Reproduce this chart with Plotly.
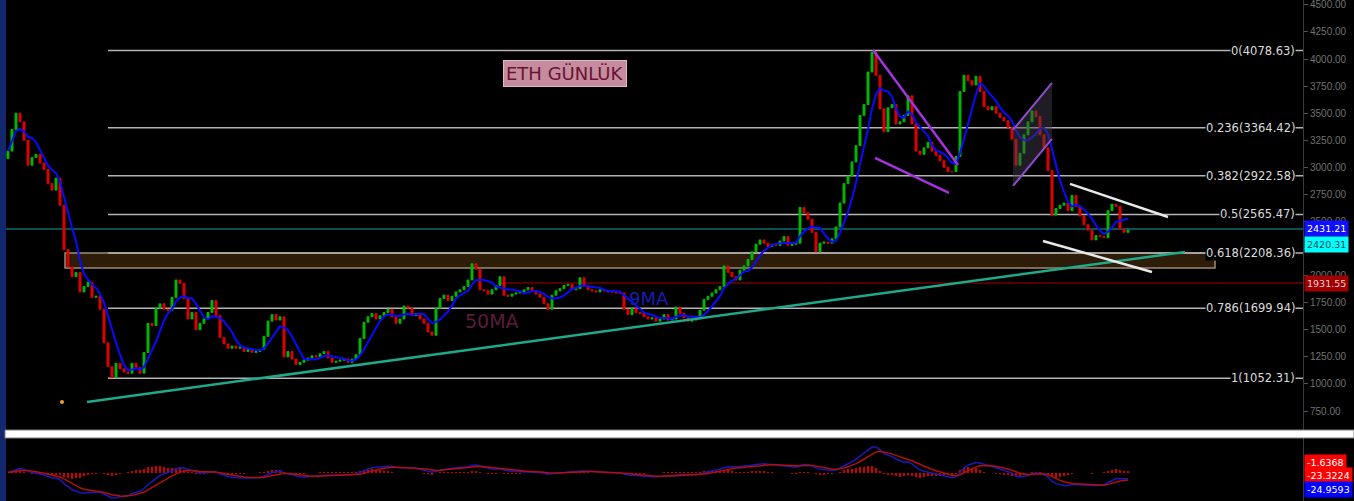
import pandas as pd
import plotly.graph_objects as go

# ---------------- data ----------------
closes = [
    3150, 3350, 3500, 3420, 3250, 3020, 3090, 3120, 3040, 2980,
    2850, 2790, 2900, 2650, 2240, 2080, 1990, 2030, 1850, 1900,
    1940, 1800, 1810, 1690, 1380, 1160, 1060, 1190, 1140, 1110,
    1100, 1190, 1150, 1100, 1290, 1560, 1540, 1700, 1740, 1690,
    1680, 1800, 1960, 1930, 1790, 1600, 1660, 1500, 1560, 1600,
    1660, 1770, 1630, 1430, 1370, 1330, 1350, 1330, 1340, 1300,
    1320, 1290, 1300, 1320, 1440, 1580, 1640, 1590, 1620, 1250,
    1300, 1230, 1180, 1200, 1220, 1240, 1260, 1250, 1280, 1300,
    1240, 1200, 1210, 1220, 1230, 1200, 1230, 1270, 1420, 1570,
    1620, 1650, 1600, 1630, 1660, 1690, 1620, 1560, 1600, 1720,
    1700, 1630, 1650, 1600, 1560, 1480, 1450, 1700, 1790, 1820,
    1770, 1810, 1850, 1870, 1900, 1960, 2110, 2060, 1870, 1860,
    1830, 1870, 1910, 1990, 1820, 1810, 1830, 1840, 1850, 1870,
    1890, 1860, 1830, 1800, 1740, 1690, 1820, 1860, 1880, 1910,
    1920, 1870, 1880, 1980, 1900, 1870, 1860, 1850, 1870, 1860,
    1850, 1850, 1840, 1840, 1690, 1640, 1700, 1660, 1650, 1620,
    1600, 1610, 1580, 1600, 1640, 1590, 1600, 1710, 1650, 1610,
    1580, 1590, 1600, 1680, 1780, 1810, 1840, 1870, 1900, 2090,
    2030, 1990, 1960, 2050, 2090, 2150, 2220, 2290, 2330, 2300,
    2270, 2290, 2280, 2320, 2360, 2280, 2290, 2300, 2630, 2580,
    2520, 2400, 2220, 2300, 2310, 2300, 2340, 2450, 2670, 2850,
    2920, 3050, 3200, 3480, 3580, 3880, 4060, 3850, 3540, 3330,
    3550, 3580, 3400, 3420, 3480, 3660, 3400, 3150, 3120, 3180,
    3230, 3150, 3110, 3060, 3000, 2960, 2960, 3100, 3700, 3850,
    3800, 3760, 3840, 3700, 3560, 3530, 3560, 3500, 3460, 3430,
    3370, 3260, 3020, 3130, 3300, 3420, 3520, 3470, 3300, 3180,
    2970, 2560, 2620, 2650, 2670, 2600, 2740, 2640, 2550, 2470,
    2420, 2330, 2370, 2360, 2350, 2600, 2660, 2640, 2430, 2400,
    2420,
]
first_open = 3080
ma_window = 6

fib_ratios = [0, 0.236, 0.382, 0.5, 0.618, 0.786, 1]
fib_levels = [4078.63, 3364.42, 2922.58, 2565.47, 2208.36, 1699.94, 1052.31]
fib_start_idx = 25

price_ticks = [750, 1000, 1250, 1500, 1750, 2000, 2250, 2500, 2750,
               3000, 3250, 3500, 3750, 4000, 4250, 4500]

band_x = [14.25, 301.75]
band_y = [2071.0, 2208.36]
last_price = 2431.21
last_close = 2420.31
red_level = 1931.55
red_level_start = 122.5

# drawn lines: (x index pair, price pair)
green_trend = ([19.75, 294.25], [834, 2219])
wedge_upper = ([216.25, 237.5], [4084, 3022])
wedge_lower = ([216.75, 235.25], [3087, 2764])
flag_upper = ([251.25, 261.0], [3345, 3779])
flag_lower = ([251.25, 261.0], [2828, 3262])
chan_upper = ([265.5, 290.0], [2847, 2542])
chan_lower = ([258.75, 286.0], [2320, 2034])
orange_dot = ([13.5], [834])

macd_fast, macd_slow, macd_sig = 8, 18, 6
macd_tag_texts = ["-1.6368", "-23.3224", "-24.9593"]

# ---------------- derived series ----------------
idx = list(range(len(closes)))
opens = [first_open] + closes[:-1]
highs = [max(o, c) for o, c in zip(opens, closes)]
lows = [min(o, c) for o, c in zip(opens, closes)]
s = pd.Series(closes, dtype=float)
ma9 = s.rolling(ma_window, min_periods=1).mean()
macd = s.ewm(span=macd_fast, adjust=False).mean() - s.ewm(span=macd_slow, adjust=False).mean()
signal = macd.ewm(span=macd_sig, adjust=False).mean()
hist = macd - signal

W, H = 1354, 501
ML, MR = 6, 51
PW = W - ML - MR
main_bottom_px = 430
macd_top_px = 438


def px_x(p):
    return (p - ML) / PW


def px_y(p):
    return 1 - p / H


fig = go.Figure()

fig.add_trace(go.Candlestick(
    x=idx, open=opens, high=highs, low=lows, close=closes,
    increasing=dict(line=dict(color="#00b800", width=1), fillcolor="#00b800"),
    decreasing=dict(line=dict(color="#e00000", width=1), fillcolor="#e00000"),
    whiskerwidth=0, hoverinfo="skip", xaxis="x", yaxis="y",
))
fig.add_trace(go.Scatter(x=idx, y=ma9, mode="lines",
                         line=dict(color="#0a0aff", width=2), xaxis="x", yaxis="y"))


def seg(pts, color, width):
    fig.add_trace(go.Scatter(x=pts[0], y=pts[1], mode="lines",
                             line=dict(color=color, width=width), xaxis="x", yaxis="y",
                             hoverinfo="skip"))


# flag shading
fig.add_trace(go.Scatter(
    x=[flag_upper[0][0], flag_upper[0][1], flag_lower[0][1], flag_lower[0][0], flag_upper[0][0]],
    y=[flag_upper[1][0], flag_upper[1][1], flag_lower[1][1], flag_lower[1][0], flag_upper[1][0]],
    mode="lines", fill="toself", fillcolor="rgba(70,62,80,0.45)", line=dict(width=0),
    xaxis="x", yaxis="y", hoverinfo="skip"))

seg(green_trend, "#1fa88a", 2.5)
seg(wedge_upper, "#a432e0", 2.5)
seg(wedge_lower, "#a432e0", 2.5)
seg(flag_upper, "#8e4cc8", 2)
seg(flag_lower, "#8e4cc8", 2)
seg(chan_upper, "#e8e8e8", 2.5)
seg(chan_lower, "#e8e8e8", 2.5)
fig.add_trace(go.Scatter(x=orange_dot[0], y=orange_dot[1], mode="markers",
                         marker=dict(color="#f0a020", size=4), xaxis="x", yaxis="y"))

# MACD pane
fig.add_trace(go.Bar(x=idx, y=hist, marker=dict(color="#d00000", line=dict(width=0)),
                     width=0.55, xaxis="x2", yaxis="y2"))
fig.add_trace(go.Scatter(x=idx, y=macd, mode="lines", line=dict(color="#1a1ab8", width=1.5),
                         xaxis="x2", yaxis="y2"))
fig.add_trace(go.Scatter(x=idx, y=signal, mode="lines", line=dict(color="#b01010", width=1.5),
                         xaxis="x2", yaxis="y2"))

shapes = []
shapes.append(dict(type="rect", xref="paper", yref="paper", x0=px_x(0), x1=px_x(ML),
                   y0=0, y1=1, fillcolor="#13276e", line=dict(width=0), layer="below"))
shapes.append(dict(type="rect", xref="x", yref="y", x0=band_x[0], x1=band_x[1],
                   y0=band_y[0], y1=band_y[1], fillcolor="#2c1c08",
                   line=dict(color="#9a8a78", width=1.5), layer="below"))
for lv in fib_levels:
    shapes.append(dict(type="line", xref="x", yref="y", x0=fib_start_idx, x1=323.75,
                       y0=lv, y1=lv, line=dict(color="#b4b4b4", width=1.5), layer="below"))
shapes.append(dict(type="line", xref="paper", yref="y", x0=0, x1=1, y0=last_price, y1=last_price,
                   line=dict(color="#0b6e6e", width=1.5), layer="below"))
shapes.append(dict(type="line", xref="x", yref="y", x0=red_level_start, x1=323.75,
                   y0=red_level, y1=red_level, line=dict(color="#700000", width=1.5), layer="below"))
shapes.append(dict(type="rect", xref="paper", yref="paper", x0=px_x(5), x1=px_x(W),
                   y0=px_y(macd_top_px), y1=px_y(main_bottom_px), fillcolor="white",
                   line=dict(color="#808080", width=1)))

annotations = []
for r, lv in zip(fib_ratios, fib_levels):
    annotations.append(dict(xref="paper", yref="y", x=px_x(1296), y=lv, xanchor="right",
                            yanchor="middle", text=f"{r:g}({lv:.2f})", showarrow=False,
                            bgcolor="black", borderpad=0,
                            font=dict(family="DejaVu Sans", size=11.5, color="#dcdcdc")))


def tag(y, yref, text, bg, fg, yshift=0):
    annotations.append(dict(xref="paper", yref=yref, x=1, y=y, xanchor="left", yanchor="middle",
                            text=text, showarrow=False, bgcolor=bg, borderpad=2, yshift=yshift,
                            xshift=1,
                            font=dict(family="DejaVu Sans", size=9.5, color=fg)))


tag(last_price, "y", f"{last_price:.2f}", "#1010ff", "white")
tag(last_close, "y", f"{last_close:.2f}", "#00ffff", "#0a5050", yshift=-14)
tag(red_level, "y", f"{red_level:.2f}", "#a00000", "#f0d0d0")
tag(px_y(462), "paper", macd_tag_texts[0], "#ff0000", "white")
tag(px_y(475.5), "paper", macd_tag_texts[1], "#ff0000", "white")
tag(px_y(489.5), "paper", macd_tag_texts[2], "#0000ff", "white")

annotations.append(dict(xref="paper", yref="paper", x=px_x(565), y=px_y(60), text="ETH GÜNLÜK",
                        showarrow=False, bgcolor="#c48c9e", bordercolor="#e2b6c4", borderwidth=1,
                        borderpad=2, font=dict(family="DejaVu Sans", size=18, color="#6a1232")))
annotations.append(dict(xref="paper", yref="paper", x=px_x(492), y=px_y(321), text="50MA",
                        showarrow=False, font=dict(family="DejaVu Sans", size=19, color="#5c1a3c")))
annotations.append(dict(xref="paper", yref="paper", x=px_x(649), y=px_y(298), text="9MA",
                        showarrow=False, font=dict(family="DejaVu Sans", size=18, color="#1c1cb0")))

mn = float(min(macd.min(), signal.min(), hist.min()))
mx = float(max(macd.max(), signal.max(), hist.max()))
span = mx - mn
macd_range = [mn - span * 3 / 51, mx + span * 9 / 51]

fig.update_layout(
    width=W, height=H, margin=dict(l=ML, r=MR, t=0, b=0, autoexpand=False),
    paper_bgcolor="black", plot_bgcolor="black", showlegend=False,
    shapes=shapes, annotations=annotations, bargap=0,
    xaxis=dict(domain=[0, 1], range=[-0.5, 323.75], anchor="y", showticklabels=False,
               showgrid=False, zeroline=False, showline=False, ticks="", automargin=False,
               rangeslider=dict(visible=False)),
    yaxis=dict(domain=[1 - main_bottom_px / H, 1], range=[575, 4545], side="right", anchor="x",
               tickvals=price_ticks, ticktext=[f"{v:.2f}" for v in price_ticks],
               showgrid=False, zeroline=False, ticks="outside", ticklen=4, tickcolor="#555555",
               showline=True, linecolor="#3a3a3a", automargin=False, ticklabeloverflow="allow",
               tickfont=dict(family="Liberation Sans", size=10, color="#707070")),
    xaxis2=dict(domain=[0, 1], range=[-0.5, 323.75], anchor="y2", matches="x", automargin=False,
                showticklabels=False, showgrid=False, zeroline=False, showline=False, ticks=""),
    yaxis2=dict(domain=[0, 1 - macd_top_px / H], range=macd_range, side="right", anchor="x2",
                showticklabels=False, showgrid=False, zeroline=False, showline=True,
                linecolor="#3a3a3a", ticks="", automargin=False),
)

fig.write_html(
    "out.html",
    config={"displayModeBar": False, "staticPlot": True},
    post_script="document.body.style.margin='0';document.body.style.padding='0';"
                "document.body.style.background='black';document.body.style.overflow='hidden';",
)
